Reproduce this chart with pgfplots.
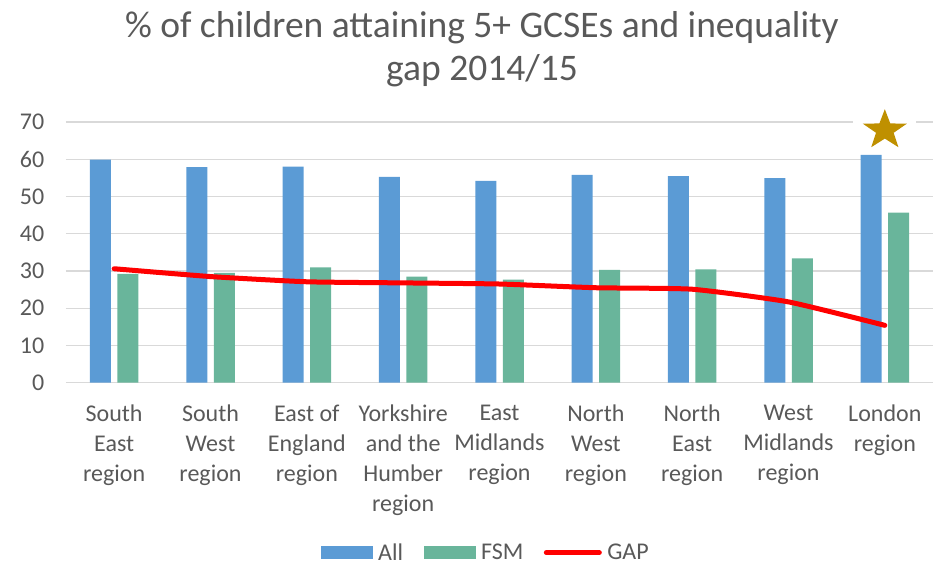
\documentclass[border=0pt]{standalone}
\usepackage{fontspec}
\setmainfont{Carlito}
\usepackage{pgfplots}
\pgfplotsset{compat=1.18}
\definecolor{allblue}{HTML}{5B9BD5}
\definecolor{fsmgreen}{HTML}{69B59B}
\definecolor{gapred}{HTML}{FF0000}
\definecolor{stargold}{HTML}{BF9000}
\definecolor{gridgray}{HTML}{D9D9D9}
\definecolor{txtgray}{HTML}{595959}

\pgfdeclareplotmark{fivestar}{%
  \begin{pgfscope}%
    \pgfsetfillcolor{white}%
    \pgfpathrectangle{\pgfpoint{-1.5\pgfplotmarksize}{-0.85\pgfplotmarksize}}{\pgfpoint{3\pgfplotmarksize}{1.9\pgfplotmarksize}}%
    \pgfusepath{fill}%
  \end{pgfscope}%
  \begin{pgfscope}%
    \pgfsetfillcolor{stargold}%
    \pgftransformxscale{1.1}%
    \pgfpathmoveto{\pgfpointpolar{90}{\pgfplotmarksize}}%
    \pgfpathlineto{\pgfpointpolar{126}{0.40\pgfplotmarksize}}%
    \pgfpathlineto{\pgfpointpolar{162}{\pgfplotmarksize}}%
    \pgfpathlineto{\pgfpointpolar{198}{0.40\pgfplotmarksize}}%
    \pgfpathlineto{\pgfpointpolar{234}{\pgfplotmarksize}}%
    \pgfpathlineto{\pgfpointpolar{270}{0.40\pgfplotmarksize}}%
    \pgfpathlineto{\pgfpointpolar{306}{\pgfplotmarksize}}%
    \pgfpathlineto{\pgfpointpolar{342}{0.40\pgfplotmarksize}}%
    \pgfpathlineto{\pgfpointpolar{18}{\pgfplotmarksize}}%
    \pgfpathlineto{\pgfpointpolar{54}{0.40\pgfplotmarksize}}%
    \pgfpathclose
    \pgfusepath{fill}%
  \end{pgfscope}%
}

\begin{document}
\begin{tikzpicture}
\path[use as bounding box] (-66pt,-183.3pt) rectangle (874pt,382.7pt);
\begin{axis}[
  at={(0pt,0pt)}, anchor=south west,
  scale only axis, width=867pt, height=260.7pt,
  xmin=-0.5, xmax=8.5, ymin=0, ymax=70,
  xtick={0,...,8},
  xticklabels={{South\\East\\region},{South\\West\\region},{East of\\England\\region},{Yorkshire\\and the\\Humber\\region},{East\\Midlands\\region},{North\\West\\region},{North\\East\\region},{West\\Midlands\\region},{London\\region}},
  ytick={0,10,...,70},
  ymajorgrids, grid style={gridgray, line width=1.3pt},
  axis line style={draw=none},
  major tick length=0pt,
  tick label style={font=\fontsize{24}{30}\selectfont, text=txtgray},
  /pgf/number format/assume math mode=true,
  xticklabel style={align=center, anchor=north, inner sep=0pt, yshift=-22pt},
  yticklabel style={anchor=east, inner sep=0pt, xshift=-21.5pt},
  clip=false,
  legend style={at={(0.4844,-0.652)}, anchor=center, draw=none, fill=none,
    legend columns=3, font=\fontsize{24}{28}\selectfont, text=txtgray,
    /tikz/every even column/.append style={column sep=18pt},
    /tikz/every odd column/.append style={column sep=3pt},
    nodes={inner sep=2.5pt}},
]
\addplot[ybar, bar width=21pt, bar shift=-13.75pt, fill=allblue, draw=none,
  legend image code/.code={\fill[allblue] (0pt,-6.5pt) rectangle (52pt,6.5pt);}]
  coordinates {(0,59.9) (1,57.9) (2,58.0) (3,55.3) (4,54.2) (5,55.8) (6,55.5) (7,54.9) (8,61.2)};
\addlegendentry{All}
\addplot[ybar, bar width=21pt, bar shift=13.75pt, fill=fsmgreen, draw=none,
  legend image code/.code={\fill[fsmgreen] (0pt,-6.5pt) rectangle (52pt,6.5pt);}]
  coordinates {(0,29.2) (1,29.5) (2,31.0) (3,28.5) (4,27.7) (5,30.3) (6,30.4) (7,33.4) (8,45.7)};
\addlegendentry{FSM}
\addplot[gapred, line width=5pt, smooth, tension=0.3, line cap=round,
  legend image code/.code={\draw[gapred, line width=5pt, line cap=round] (2pt,0pt) -- (55pt,0pt);}]
  coordinates {(0,30.6) (1,28.5) (2,27.1) (3,26.8) (4,26.5) (5,25.5) (6,25.1) (7,21.7) (8,15.4)};
\addlegendentry{GAP}
\addplot[only marks, mark=fivestar, mark size=21pt, forget plot]
  coordinates {(8,67.8)};
\end{axis}
\node[align=center, text=txtgray, font=\fontsize{37.5}{43}\selectfont] at (416pt,333.5pt)
  {\% of children attaining 5+ GCSEs and inequality\\gap 2014/15};
\end{tikzpicture}
\end{document}
